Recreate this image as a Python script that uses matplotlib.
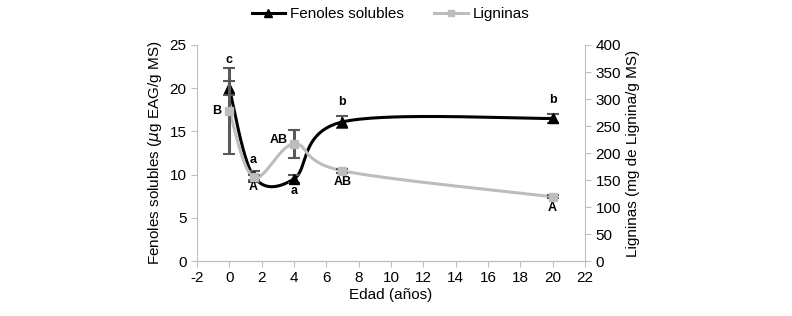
import numpy as np
import matplotlib
matplotlib.use("Agg")
import matplotlib.pyplot as plt

plt.rcParams['font.family'] = ['Liberation Sans', 'DejaVu Sans']
plt.rcParams['axes.unicode_minus'] = False

# Datos
edad = [0, 1.5, 4, 7, 20]
fenoles = [20.0, 9.8, 9.5, 16.1, 16.5]
fenoles_err = [0.8, 0.6, 0.5, 0.7, 0.5]
ligninas = [278, 155, 217, 167, 119]
ligninas_err = [80, 5, 26, 4, 3]
letras_fenoles = ["c", "a", "a", "b", "b"]
letras_ligninas = ["B", "A", "AB", "AB", "A"]


def suavizar(x, y, n=60):
    '''
    Curva suavizada tipo Excel (Catmull-Rom con Bezier cubico).
    '''
    x = np.asarray(x, float)
    y = np.asarray(y, float)
    pts = np.column_stack([x, y])
    out = []
    for i in range(len(pts) - 1):
        p0 = pts[i - 1] if i > 0 else pts[i]
        p1 = pts[i]
        p2 = pts[i + 1]
        p3 = pts[i + 2] if i + 2 < len(pts) else pts[i + 1]
        c1 = p1 + (p2 - p0) / 6
        c2 = p2 - (p3 - p1) / 6
        t = np.linspace(0, 1, n)[:, None]
        seg = ((1 - t) ** 3) * p1 + 3 * ((1 - t) ** 2) * t * c1 + 3 * (1 - t) * t ** 2 * c2 + t ** 3 * p2
        out.append(seg)
    seg = np.vstack(out)
    return seg[:, 0], seg[:, 1]


gris_eje = "#bfbfbf"
gris_lig = "#bdbdbd"
gris_err = "#595959"
fs = 11

fig = plt.figure(figsize=(7.92, 3.16), dpi=100)
ax = fig.add_axes([0.2487, 0.174, 0.4899, 0.6836])
ax2 = ax.twinx()

# Ligninas (eje secundario)
xs, ys = suavizar(edad, ligninas)
ax2.plot(xs, ys, color=gris_lig, lw=2.2, zorder=2)
ax2.errorbar(edad, ligninas, yerr=ligninas_err, fmt="none", ecolor=gris_err,
             elinewidth=2.2, capsize=4.5, capthick=1.5, zorder=3)
ax2.plot(edad, ligninas, "s", color=gris_lig, ms=6, zorder=4)

# Fenoles
xs, ys = suavizar(edad, fenoles)
ax.plot(xs, ys, color="black", lw=2.2, zorder=2)
ax.errorbar(edad, fenoles, yerr=fenoles_err, fmt="none", ecolor=gris_err,
            elinewidth=1.5, capsize=4, capthick=1.5, zorder=3)
ax.plot(edad, fenoles, "^", color="black", ms=7, zorder=4)

# Letras
kw = dict(fontsize=9, fontweight="bold", ha="center", va="center")
off_f = [(0, 15), (0, 8), (0, -9), (0, 10), (0, 10)]
for x, y, e, l, (dx, dy) in zip(edad, fenoles, fenoles_err, letras_fenoles, off_f):
    ax.annotate(l, (x, y + (e if dy > 0 else 0)), xytext=(dx, dy), textcoords="offset points", **kw)
off_l = [(-9, 0), (0, -7), (-11, 3), (0, -8), (0, -8)]
for x, y, l, (dx, dy) in zip(edad, ligninas, letras_ligninas, off_l):
    ax2.annotate(l, (x, y), xytext=(dx, dy), textcoords="offset points", **kw)

ax.set_xlim(-2, 22)
ax.set_xticks(range(-2, 23, 2))
ax.set_ylim(0, 25)
ax.set_yticks(range(0, 26, 5))
ax2.set_ylim(0, 400)
ax2.set_yticks(range(0, 401, 50))

for a in (ax, ax2):
    for s in a.spines.values():
        s.set_color(gris_eje)
    a.spines["top"].set_visible(False)
    a.tick_params(colors=gris_eje, labelcolor="black", labelsize=fs, length=4)
ax.spines["right"].set_visible(False)
ax2.spines["left"].set_visible(False)

ax.set_xlabel("Edad (años)", fontsize=fs, labelpad=2)
ax.set_ylabel("Fenoles solubles ($\\mu$g EAG/g MS)", fontsize=fs, labelpad=4)
ax2.set_ylabel("Ligninas (mg de Lignina/g MS)", fontsize=fs, labelpad=4)

h1, = ax.plot([], [], color="black", marker="^", lw=2.2, ms=6)
h2, = ax.plot([], [], color=gris_lig, marker="s", lw=2.2, ms=5)
fig.legend([h1, h2], ["Fenoles solubles", "Ligninas"], loc="upper center",
           bbox_to_anchor=(0.493, 1.02), ncol=2, frameon=False, fontsize=fs,
           handlelength=2.2, columnspacing=2.0, handletextpad=0.3)

fig.savefig("out.png", dpi=100)
